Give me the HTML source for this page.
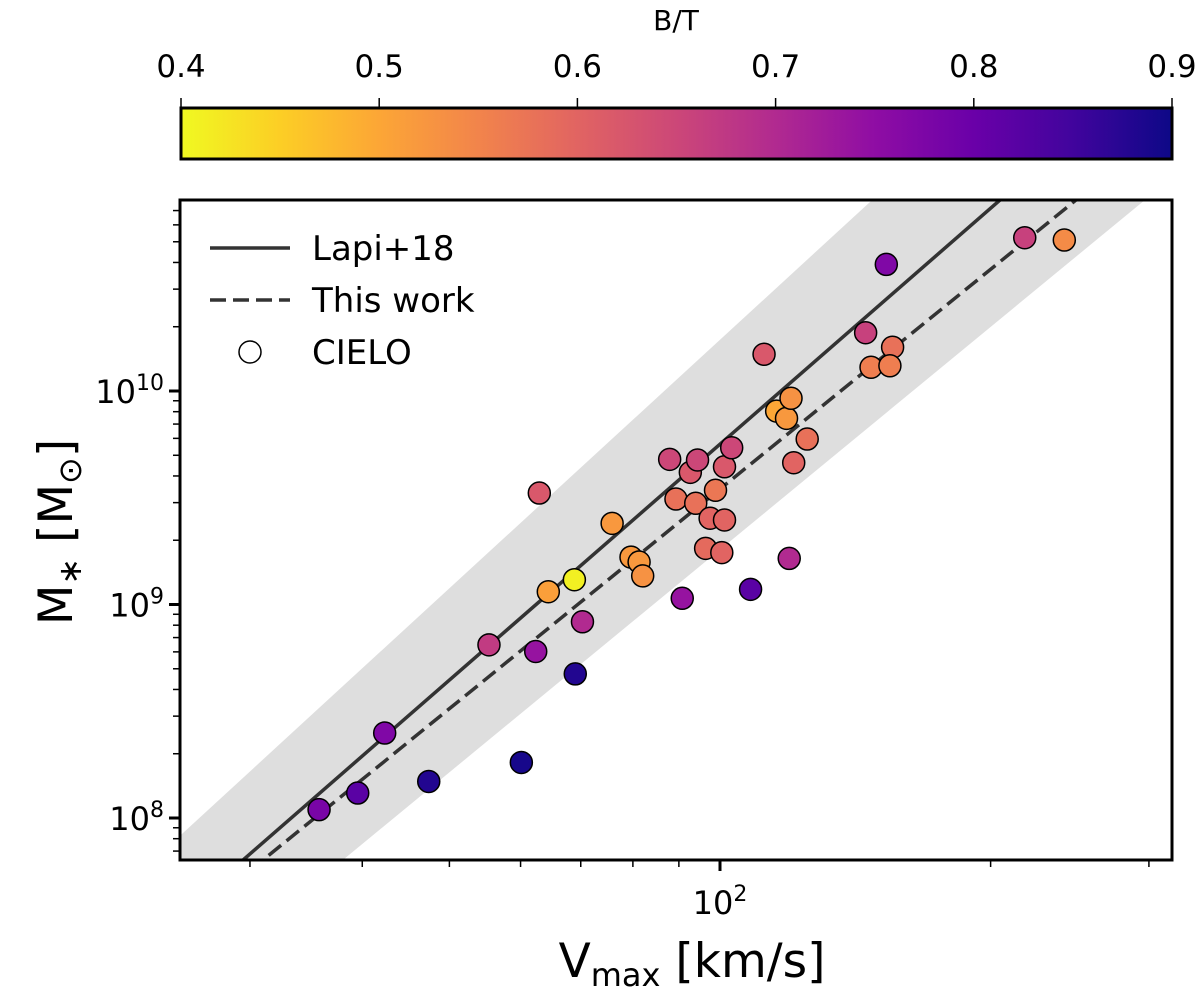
<!DOCTYPE html>
<html><head><meta charset="utf-8"><style>
body{margin:0;background:#fff;overflow:hidden;}
svg{display:block;}
svg text{font-family:"DejaVu Sans","Liberation Sans",sans-serif;fill:#000;}
</style></head><body>
<svg id="chart" width="1200" height="992" viewBox="0 0 1200 992" xmlns="http://www.w3.org/2000/svg">
<defs>
<linearGradient id="cbgrad" x1="0" x2="1" y1="0" y2="0">
<stop offset="0" stop-color="#f0f921"/><stop offset="0.1" stop-color="#fcce25"/><stop offset="0.2" stop-color="#fca636"/><stop offset="0.3" stop-color="#f2844b"/><stop offset="0.4" stop-color="#e16462"/><stop offset="0.5" stop-color="#cc4778"/><stop offset="0.6" stop-color="#b12a90"/><stop offset="0.7" stop-color="#8f0da4"/><stop offset="0.8" stop-color="#6a00a8"/><stop offset="0.9" stop-color="#41049d"/><stop offset="1" stop-color="#0d0887"/>
</linearGradient>
<clipPath id="plotclip"><rect x="180" y="200" width="992" height="660"/></clipPath>
</defs>
<text x="676" y="30" font-size="28" text-anchor="middle">B/T</text>
<rect x="181" y="108" width="991" height="51" fill="url(#cbgrad)" stroke="#000" stroke-width="3"/>
<g id="cbticks"></g>
<g id="band" clip-path="url(#plotclip)"></g>
<g id="lines" clip-path="url(#plotclip)"></g>
<g id="points"></g>
<rect x="180" y="200" width="992" height="660" fill="none" stroke="#000" stroke-width="3"/>
<g id="axes"></g>
<g>
<line x1="210" y1="248" x2="290" y2="248" stroke="#333" stroke-width="3.5"/>
<text x="312" y="260" font-size="34">Lapi+18</text>
<line x1="210" y1="300" x2="290" y2="300" stroke="#333" stroke-width="3.5" stroke-dasharray="16,7"/>
<text x="312" y="312" font-size="34">This work</text>
<circle cx="250" cy="352" r="11" fill="#fff" stroke="#000" stroke-width="1.5"/>
<text x="312" y="364" font-size="34">CIELO</text>
</g>
<text x="692" y="977" font-size="47" text-anchor="middle">V<tspan font-size="32" dy="9">max</tspan><tspan dy="-9"> [km/s]</tspan></text>
<text transform="translate(72,532) rotate(-90)" font-size="47" text-anchor="middle">M<tspan font-size="32" dy="9">∗</tspan><tspan dy="-9"> [M</tspan><tspan font-size="32" dy="9">⊙</tspan><tspan dy="-9">]</tspan></text>
</svg>
<script>
const logVmax=[1.554,1.597,1.627,1.676,1.743,1.779,1.795,1.799,1.809,1.838,1.839,1.847,1.880,1.901,1.910,1.914,1.944,1.951,1.958,1.967,1.973,1.975,1.984,1.989,1.995,2.002,2.005,2.005,2.013,2.034,2.049,2.063,2.074,2.079,2.077,2.082,2.097,2.162,2.168,2.185,2.192,2.189,2.339,2.383];
const logMstar=[8.039,8.117,8.398,8.171,8.811,8.260,8.780,9.522,9.060,9.116,8.675,8.919,9.380,9.222,9.199,9.134,9.680,9.494,9.029,9.619,9.474,9.677,9.263,9.404,9.535,9.243,9.396,9.645,9.734,9.071,10.172,9.906,9.872,9.966,9.216,9.664,9.775,10.273,10.111,10.593,10.205,10.118,10.718,10.707];
const bulgeToTotal=[0.78,0.82,0.77,0.88,0.67,0.89,0.74,0.62,0.51,0.41,0.88,0.70,0.52,0.52,0.52,0.53,0.65,0.58,0.74,0.62,0.58,0.65,0.59,0.60,0.57,0.60,0.60,0.62,0.65,0.82,0.62,0.50,0.52,0.53,0.70,0.60,0.58,0.66,0.56,0.77,0.58,0.56,0.66,0.54];
const lapiLine=[2.409,3.671];
const thisWorkLine=[2.705,3.418];
const bandUpper=[2.506,3.867];
const bandLower=[2.327,3.465];
const colorbarTicks=[0.4,0.5,0.6,0.7,0.8,0.9];

const NS="http://www.w3.org/2000/svg";
const X0=180,X1=1172,Y0=200,Y1=860;
const xmin=1.3993,xmax=2.5028,ymin=7.8033,ymax=10.8946;
const sx=v=>X0+(v-xmin)/(xmax-xmin)*(X1-X0);
const sy=v=>Y1-(v-ymin)/(ymax-ymin)*(Y1-Y0);
const cbx=v=>181+(v-0.4)/0.5*991;
function mk(tag,attrs,parent){const e=document.createElementNS(NS,tag);for(const k in attrs)e.setAttribute(k,attrs[k]);parent.appendChild(e);return e;}
const plasma=["#0d0887","#41049d","#6a00a8","#8f0da4","#b12a90","#cc4778","#e16462","#f2844b","#fca636","#fcce25","#f0f921"];
function hex(h){return [1,3,5].map(i=>parseInt(h.substr(i,2),16));}
function color(bt){let t=(0.9-bt)/0.5;t=Math.max(0,Math.min(1,t));const f=t*10,i=Math.min(9,Math.floor(f)),r=f-i;const a=hex(plasma[i]),b=hex(plasma[i+1]);return "rgb("+a.map((c,k)=>Math.round(c+(b[k]-c)*r)).join(",")+")";}

const cbt=document.getElementById('cbticks');
colorbarTicks.forEach(v=>{
 const l=mk('line',{x1:cbx(v),x2:cbx(v),y1:98,y2:108,stroke:'#000','stroke-width':1.5},cbt);
 
 
 const t=mk('text',{x:cbx(v),y:77,'font-size':31,'text-anchor':'middle'},cbt);
 t.textContent=v.toFixed(1);
 
 
});

const bg=document.getElementById('band');
const xa=xmin-0.1,xb=xmax+0.1;
const poly=[[xa,bandUpper[0]+bandUpper[1]*xa],[xb,bandUpper[0]+bandUpper[1]*xb],[xb,bandLower[0]+bandLower[1]*xb],[xa,bandLower[0]+bandLower[1]*xa]];
const bp=mk('polygon',{points:poly.map(p=>sx(p[0])+","+sy(p[1])).join(" "),fill:'#dedede'},bg);



const lg=document.getElementById('lines');
const l1=mk('line',{x1:sx(xa),y1:sy(lapiLine[0]+lapiLine[1]*xa),x2:sx(xb),y2:sy(lapiLine[0]+lapiLine[1]*xb),stroke:'#333','stroke-width':3.5},lg);


const l2=mk('line',{x1:sx(xa),y1:sy(thisWorkLine[0]+thisWorkLine[1]*xa),x2:sx(xb),y2:sy(thisWorkLine[0]+thisWorkLine[1]*xb),stroke:'#333','stroke-width':3.5,'stroke-dasharray':'16,7'},lg);



const pg=document.getElementById('points');
logVmax.forEach((v,i)=>{
 const c=mk('circle',{cx:sx(v),cy:sy(logMstar[i]),r:11,fill:color(bulgeToTotal[i]),stroke:'#000','stroke-width':1.5},pg);
 
 
});

const ag=document.getElementById('axes');
const xminor=[30,40,50,60,70,80,90,200,300];
xminor.forEach(v=>{const x=sx(Math.log10(v));
 const l=mk('line',{x1:x,x2:x,y1:860,y2:867,stroke:'#000','stroke-width':1.5},ag);
 
 });
{const x=sx(2);mk('line',{x1:x,x2:x,y1:860,y2:871,stroke:'#000','stroke-width':3},ag);
 const t=mk('text',{x:x,y:914,'font-size':32,'text-anchor':'middle'},ag);
 t.innerHTML='10<tspan font-size="22" dy="-13">2</tspan>';
 
 }
for(let d=7;d<=10;d++){for(let m=1;m<=9;m++){const lv=d+Math.log10(m);if(lv<ymin||lv>ymax)continue;const y=sy(lv);
 if(m===1){mk('line',{x1:169,x2:180,y1:y,y2:y,stroke:'#000','stroke-width':3},ag);
  const t=mk('text',{x:164,y:y+12,'font-size':32,'text-anchor':'end'},ag);
  t.innerHTML='10<tspan font-size="22" dy="-13">'+d+'</tspan>';
  
  }
 else{const l=mk('line',{x1:173,x2:180,y1:y,y2:y,stroke:'#000','stroke-width':1.5},ag);
  
  }}}
</script>
</body></html>
